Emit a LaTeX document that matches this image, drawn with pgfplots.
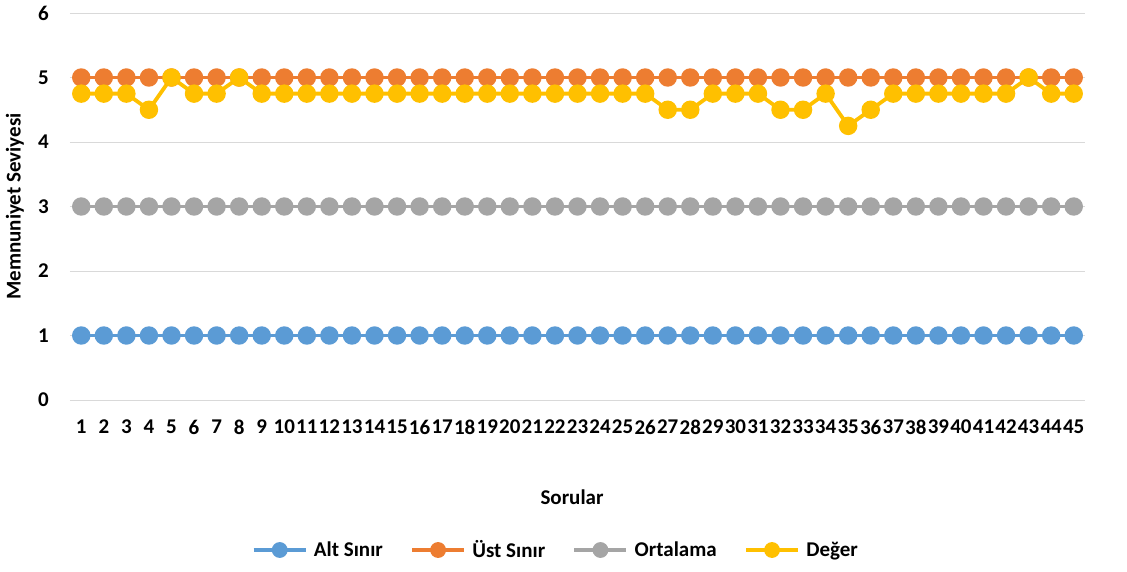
\documentclass[border=0pt]{standalone}
\usepackage{fontspec}
\setmainfont{Carlito}
\usepackage{pgfplots}
\pgfplotsset{compat=1.18}
\usepackage{pgfplotstable}
\definecolor{cA}{HTML}{5B9BD5}
\definecolor{cU}{HTML}{ED7D31}
\definecolor{cO}{HTML}{A5A5A5}
\definecolor{cD}{HTML}{FFC000}
\definecolor{gridc}{HTML}{D9D9D9}
\pgfplotstableread{
x alt ust ort deg
1 1 5 3 4.75
2 1 5 3 4.75
3 1 5 3 4.75
4 1 5 3 4.5
5 1 5 3 5
6 1 5 3 4.75
7 1 5 3 4.75
8 1 5 3 5
9 1 5 3 4.75
10 1 5 3 4.75
11 1 5 3 4.75
12 1 5 3 4.75
13 1 5 3 4.75
14 1 5 3 4.75
15 1 5 3 4.75
16 1 5 3 4.75
17 1 5 3 4.75
18 1 5 3 4.75
19 1 5 3 4.75
20 1 5 3 4.75
21 1 5 3 4.75
22 1 5 3 4.75
23 1 5 3 4.75
24 1 5 3 4.75
25 1 5 3 4.75
26 1 5 3 4.75
27 1 5 3 4.5
28 1 5 3 4.5
29 1 5 3 4.75
30 1 5 3 4.75
31 1 5 3 4.75
32 1 5 3 4.5
33 1 5 3 4.5
34 1 5 3 4.75
35 1 5 3 4.25
36 1 5 3 4.5
37 1 5 3 4.75
38 1 5 3 4.75
39 1 5 3 4.75
40 1 5 3 4.75
41 1 5 3 4.75
42 1 5 3 4.75
43 1 5 3 5
44 1 5 3 4.75
45 1 5 3 4.75
}\data
\begin{document}
\begin{tikzpicture}
\useasboundingbox (-70pt,-171pt) rectangle (1057pt,400pt);
\begin{axis}[
  at={(0,0)}, anchor=south west,
  scale only axis, width=1015pt, height=387pt,
  xmin=0.5, xmax=45.5, ymin=0, ymax=6,
  xtick={1,...,45}, ytick={0,...,6},
  ymajorgrids, grid style={draw=gridc, line width=1pt},
  axis line style={draw=none}, major tick length=0pt, tick style={draw=none},
  font=\fontsize{21}{25}\selectfont\bfseries,
  /pgf/number format/assume math mode=true,
  yticklabel style={anchor=east, inner sep=0pt, xshift=-21pt},
  xticklabel style={anchor=north, inner sep=0pt, yshift=-20pt},
  xlabel={Sorular}, ylabel={Memnuniyet Seviyesi},
  xlabel style={at={(axis description cs:0.4946,-0.2506)}, anchor=center},
  ylabel style={at={(axis description cs:-0.0542,0.5)}, anchor=center},
  legend columns=4,
  legend style={at={(axis description cs:0.478,-0.3876)}, anchor=center, draw=none,
    font=\fontsize{21}{25}\selectfont\bfseries,
    nodes={inner sep=1pt},
    /tikz/every odd column/.style={column sep=5pt},
    /tikz/every even column/.style={column sep=26pt}},
  legend image code/.code={
    \draw[#1, mark=none, line width=4.5pt] (0pt,0pt) -- (52pt,0pt);
    \draw[#1, mark size=6pt] plot coordinates {(26pt,0pt)};
  },
  every axis plot/.append style={line width=3.8pt, mark=*, mark size=7.3pt, mark options={draw=none}},
]
\addplot[color=cA] table[x=x,y=alt]{\data};
\addlegendentry{Alt Sınır}
\addplot[color=cU] table[x=x,y=ust]{\data};
\addlegendentry{Üst Sınır}
\addplot[color=cO] table[x=x,y=ort]{\data};
\addlegendentry{Ortalama}
\addplot[color=cD] table[x=x,y=deg]{\data};
\addlegendentry{Değer}
\end{axis}
\end{tikzpicture}
\end{document}
